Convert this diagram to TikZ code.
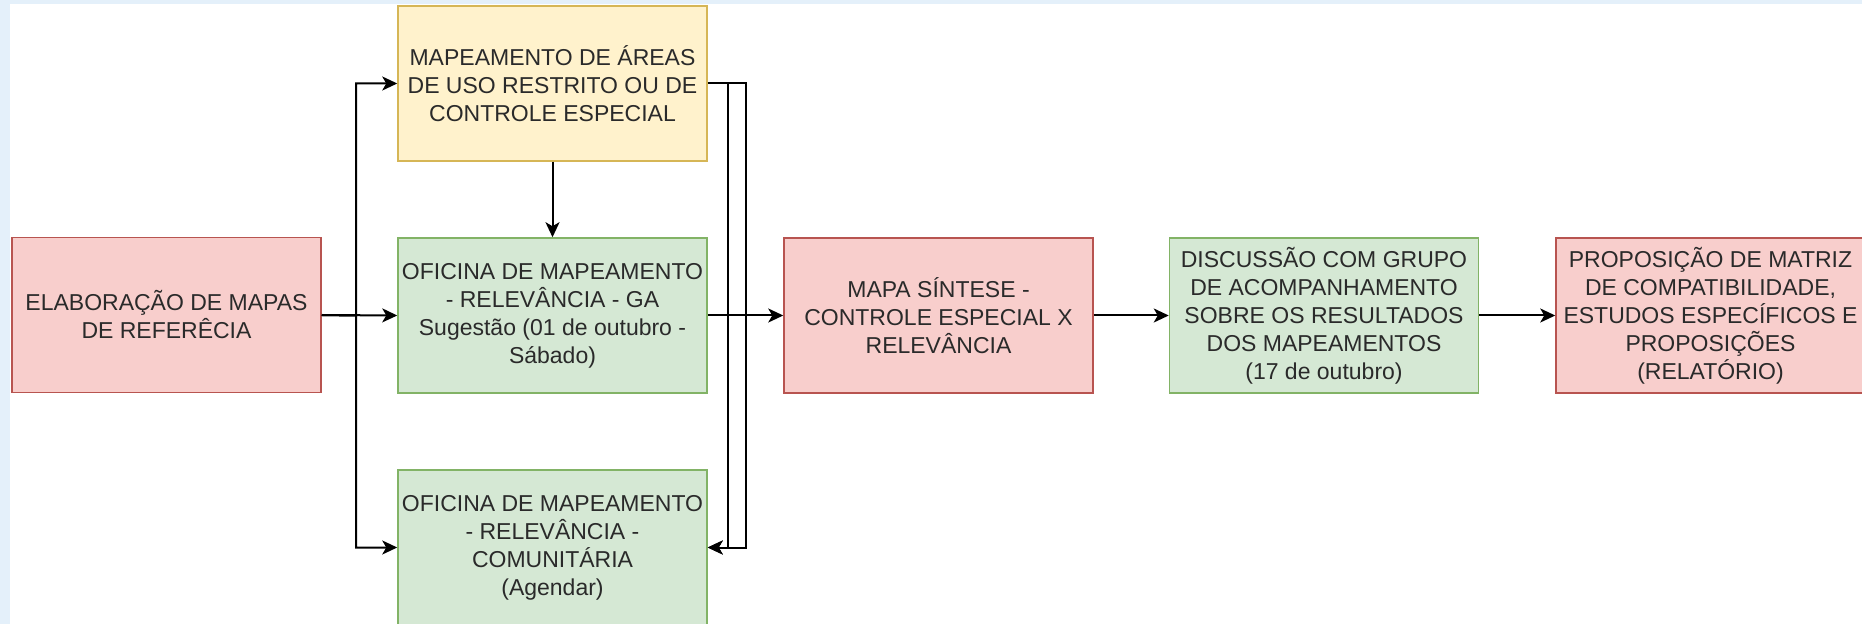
\documentclass[tikz,border=0pt]{standalone}
\usepackage{fontspec}
\setmainfont{Liberation Sans}
\usetikzlibrary{arrows.meta,positioning}
\definecolor{redfill}{HTML}{F8CECC}
\definecolor{redline}{HTML}{B85450}
\definecolor{yelfill}{HTML}{FFF2CC}
\definecolor{yelline}{HTML}{D6B656}
\definecolor{grnfill}{HTML}{D5E8D4}
\definecolor{grnline}{HTML}{82B366}
\definecolor{bgblue}{HTML}{E4F0FA}
\definecolor{txt}{HTML}{2A2A2A}
\begin{document}
\begin{tikzpicture}[x=0.5pt,y=-0.5pt,
  box/.style={rectangle,minimum width=154.5pt,minimum height=77.5pt,inner sep=0pt,
    line width=0.75pt,align=center,text=txt,font=\fontsize{11.5pt}{14pt}\selectfont},
  redbox/.style={box,fill=redfill,draw=redline},
  yelbox/.style={box,fill=yelfill,draw=yelline},
  grnbox/.style={box,fill=grnfill,draw=grnline},
  arr/.style={line width=1pt,-{Stealth[length=7.5pt,width=7pt,inset=2pt]}}]
\useasboundingbox (0,0) rectangle (1862,624);
\fill[white] (0,0) rectangle (1862,624);
\fill[bgblue] (0,0) rectangle (10,624);
\fill[bgblue] (0,0) rectangle (1862,4);

\node[redbox] (ref) at (166.5,315) {ELABORAÇÃO DE MAPAS\\DE REFERÊCIA};
\node[yelbox] (amb) at (552.5,83.5) {MAPEAMENTO DE ÁREAS\\DE USO RESTRITO OU DE\\CONTROLE ESPECIAL};
\node[grnbox] (ga) at (552.5,315.5) {OFICINA DE MAPEAMENTO\\- RELEVÂNCIA - GA\\Sugestão (01 de outubro -\\Sábado)};
\node[grnbox] (com) at (552.5,547.5) {OFICINA DE MAPEAMENTO\\- RELEVÂNCIA -\\COMUNITÁRIA\\(Agendar)};
\node[redbox] (mapa) at (938.5,315.5) {MAPA SÍNTESE -\\CONTROLE ESPECIAL X\\RELEVÂNCIA};
\node[grnbox] (disc) at (1324,315.5) {DISCUSSÃO COM GRUPO\\DE ACOMPANHAMENTO\\SOBRE OS RESULTADOS\\DOS MAPEAMENTOS\\(17 de outubro)};
\node[redbox] (prop) at (1710.5,315.5) {PROPOSIÇÃO DE MATRIZ\\DE COMPATIBILIDADE,\\ESTUDOS ESPECÍFICOS E\\PROPOSIÇÕES\\(RELATÓRIO)};

\coordinate (fork) at (356,315.5);
\draw[arr] (ref.east) -- (ga.west);
\draw[arr] (ref.east) -- (fork) |- (amb.west);
\draw[arr] (ref.east) -- (fork) |- (com.west);
\draw[arr] (amb.south) -- (ga.north);
\draw[arr] (amb.east) -- ++(20,0) |- (com.east);
\draw[arr] (amb.east) -- ++(38,0) |- (com.east);
\draw[arr] (ga.east) -- (mapa.west);
\draw[arr] (mapa.east) -- (disc.west);
\draw[arr] (disc.east) -- (prop.west);
\end{tikzpicture}
\end{document}
